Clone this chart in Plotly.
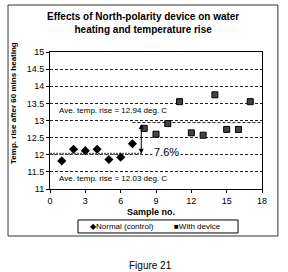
import plotly.graph_objects as go

# Data
normal_x = [1, 2, 3, 4, 5, 6, 7]
normal_y = [11.82, 12.16, 12.12, 12.16, 11.86, 11.93, 12.32]
device_x = [8, 9, 10, 11, 12, 13, 14, 15, 16, 17]
device_y = [12.77, 12.60, 12.91, 13.55, 12.64, 12.57, 13.75, 12.74, 12.74, 13.55]
avg_normal = 12.03
avg_device = 12.94
avg_normal_span = [0, 7.8]
avg_device_span = [7.0, 18]
pct_label = "7.6%"
x_ticks = [0, 3, 6, 9, 12, 15, 18]
y_ticks = [11, 11.5, 12, 12.5, 13, 13.5, 14, 14.5, 15]
series_names = ["Normal (control)", "With device"]

FONT = "Liberation Sans, Arial, sans-serif"

fig = go.Figure()

# average lines
fig.add_trace(go.Scatter(x=avg_device_span, y=[avg_device] * 2, mode="lines",
                         line=dict(color="#222", width=1, dash="3px,2px"),
                         showlegend=False, hoverinfo="skip"))
fig.add_trace(go.Scatter(x=avg_normal_span, y=[avg_normal] * 2, mode="lines",
                         line=dict(color="#666", width=2, dash="2px,1px"),
                         showlegend=False, hoverinfo="skip"))

fig.add_trace(go.Scatter(x=normal_x, y=normal_y, mode="markers", name=series_names[0],
                         showlegend=False,
                         marker=dict(symbol="diamond", size=7, color="black")))
fig.add_trace(go.Scatter(x=device_x, y=device_y, mode="markers", name=series_names[1],
                         showlegend=False,
                         marker=dict(symbol="square", size=6, color="#444",
                                     line=dict(color="black", width=1))))

# double arrow
fig.add_annotation(x=7.75, y=avg_normal, ax=7.75, ay=avg_device, xref="x", yref="y",
                   axref="x", ayref="y", text="", showarrow=True, arrowhead=2,
                   arrowside="end+start", arrowsize=1, arrowwidth=1, arrowcolor="black")
fig.add_annotation(x=9.85, y=12.07, xref="x", yref="y", text=pct_label, showarrow=False,
                   xanchor="center", yanchor="middle",
                   font=dict(size=11, color="black", family=FONT), bgcolor="white")

fig.add_annotation(x=0.6, y=13.28, xref="x", yref="y", xanchor="left", yanchor="middle",
                   text=f"Ave. temp. rise = {avg_device:.2f} deg. C", showarrow=False,
                   font=dict(size=8, color="black", family=FONT), bgcolor="white")
fig.add_annotation(x=0.6, y=11.32, xref="x", yref="y", xanchor="left", yanchor="middle",
                   text=f"Ave. temp. rise = {avg_normal:.2f} deg. C", showarrow=False,
                   font=dict(size=8, color="black", family=FONT), bgcolor="white")

# titles
fig.add_annotation(x=0.439, y=1.21, xref="paper", yref="paper", showarrow=False,
                   xanchor="center", yanchor="middle",
                   text="<b>Effects of North-polarity device on water<br>heating and temperature rise</b>",
                   font=dict(size=10, color="black", family=FONT))
fig.add_annotation(x=-0.17, y=0.628, xref="paper", yref="paper", showarrow=False, textangle=-90,
                   xanchor="center", yanchor="middle",
                   text="<b>Temp. rise after 60 mins heating</b>",
                   font=dict(size=8, color="black", family=FONT))
fig.add_annotation(x=0.476, y=-0.168, xref="paper", yref="paper", showarrow=False,
                   xanchor="center", yanchor="middle",
                   text="<b>Sample no.</b>", font=dict(size=9, color="black", family=FONT))
fig.add_annotation(x=0.472, y=-0.555, xref="paper", yref="paper", showarrow=False,
                   xanchor="center", yanchor="middle",
                   text="Figure 21", font=dict(size=10, color="black", family=FONT))

# legend (drawn as box + labelled glyphs)
fig.add_shape(type="rect", xref="paper", yref="paper", x0=0.132, x1=0.887, y0=-0.321, y1=-0.226,
              line=dict(color="black", width=1), fillcolor="white")
fig.add_annotation(x=0.18, y=-0.274, xref="paper", yref="paper", showarrow=False,
                   xanchor="left", yanchor="middle",
                   text="◆" + series_names[0], font=dict(size=8, color="black", family=FONT))
fig.add_annotation(x=0.575, y=-0.274, xref="paper", yref="paper", showarrow=False,
                   xanchor="left", yanchor="middle",
                   text="■" + series_names[1], font=dict(size=8, color="black", family=FONT))

# outer chart border
fig.add_shape(type="rect", xref="paper", yref="paper", x0=-0.198, x1=1.075, y0=-0.343, y1=1.343,
              line=dict(color="#333", width=1))

fig.update_xaxes(range=[0, 18], tickvals=x_ticks, showgrid=False, zeroline=False,
                 showline=True, mirror=True, linecolor="black", linewidth=1,
                 ticks="outside", ticklen=3, tickcolor="black",
                 tickfont=dict(size=9, color="black", family=FONT))
fig.update_yaxes(range=[11, 15], tickvals=y_ticks, showgrid=True, gridcolor="#222",
                 gridwidth=1, griddash="3px,2px", zeroline=False,
                 showline=True, mirror=True, linecolor="black", linewidth=1,
                 ticks="outside", ticklen=3, tickcolor="black",
                 tickfont=dict(size=9, color="black", family=FONT))

fig.update_layout(width=288, height=272, margin=dict(l=50, r=26, t=52, b=83),
                  paper_bgcolor="white", plot_bgcolor="white",
                  font=dict(family=FONT, color="black"), showlegend=False)

fig.write_html("out.html")
